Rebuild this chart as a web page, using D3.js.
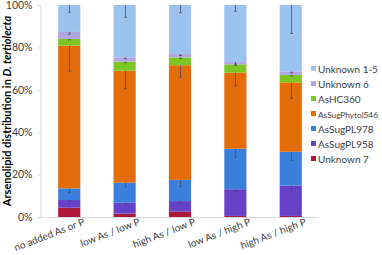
<!DOCTYPE html>
<html>
<head>
<meta charset="utf-8">
<script src="https://cdn.jsdelivr.net/npm/d3@7"></script>
<style>
  body { margin: 0; background: #fff; }
  svg text { font-family: Lato, "Open Sans", sans-serif; fill: #404040; }
</style>
</head>
<body>
<div id="chart"></div>
<script>
const width = 382;
const height = 255;

const categories = ["no added As or P", "low As / low P", "high As / low P", "low As / high P", "high As / high P"];
const seriesNames = ["Unknown 7", "AsSugPL958", "AsSugPL978", "AsSugPhytol546", "AsHC360", "Unknown 6", "Unknown 1-5"];
const colors = ["#B0173A", "#6642C8", "#3A7FDB", "#E46C0B", "#7CC623", "#B3A5E2", "#9CC2F0"];

// percent values per series, one per category
const unknown7 = [4.4, 1.6, 2.5, 0.5, 0.5];
const pl958 = [3.6, 5.1, 5.0, 12.6, 14.3];
const pl978 = [5.5, 9.5, 10.0, 19.1, 16.0];
const phytol546 = [67.3, 52.8, 54.1, 35.9, 32.7];
const hc360 = [3.2, 4.3, 3.7, 3.9, 3.5];
const unknown6 = [3.3, 2.0, 1.6, 1.1, 1.7];
const unknown15 = [12.7, 24.7, 23.1, 26.9, 31.3];

// error (minus direction) per series
const errUnknown7 = [0.5, 0.5, 0.5, 0.3, 0.3];
const errPl958 = [0.5, 0.7, 0.7, 1.3, 3.0];
const errPl978 = [2.0, 2.0, 3.0, 4.0, 4.0];
const errPhytol546 = [12.0, 8.5, 5.7, 6.3, 7.5];
const errHc360 = [0.5, 0.5, 0.5, 0.5, 0.5];
const errUnknown6 = [1.0, 0.7, 0.7, 1.0, 0.7];
const errUnknown15 = [3.4, 5.8, 3.6, 3.0, 13.4];

const yTicks = [0, 20, 40, 60, 80, 100];

const values = [unknown7, pl958, pl978, phytol546, hc360, unknown6, unknown15];
const errors = [errUnknown7, errPl958, errPl978, errPhytol546, errHc360, errUnknown6, errUnknown15];

const table = categories.map((c, i) => {
    const row = { cat: c };
    seriesNames.forEach((s, j) => { row[s] = values[j][i]; });
    return row;
});

const stacked = d3.stack().keys(seriesNames)(table);

const svg = d3.select("#chart")
    .append("svg")
    .attr("width", width)
    .attr("height", height);

const x = d3.scaleBand()
    .domain(categories)
    .range([41, 319])
    .paddingInner(0.6)
    .paddingOuter(0.31);

const y = d3.scaleLinear()
    .domain([0, 100])
    .range([217, 5]);

// bars
stacked.forEach((layer, j) => {
    svg.append("g")
        .selectAll("rect")
        .data(layer)
        .enter()
        .append("rect")
        .attr("x", d => x(d.data.cat))
        .attr("y", d => y(d[1]))
        .attr("width", x.bandwidth())
        .attr("height", d => y(d[0]) - y(d[1]))
        .attr("fill", colors[j]);
});

// error bars (minus only, from segment top)
stacked.forEach((layer, j) => {
    const g = svg.append("g")
        .attr("stroke", "#4a4a5a")
        .attr("stroke-opacity", 0.75)
        .attr("stroke-width", 1);
    layer.forEach((d, i) => {
        const cx = Math.round(x(d.data.cat) + x.bandwidth() / 2) + 0.5;
        const y1 = y(d[1]);
        const y2 = y(d[1] - errors[j][i]);
        g.append("line").attr("x1", cx).attr("x2", cx).attr("y1", y1).attr("y2", y2);
        g.append("line").attr("x1", cx - 1.5).attr("x2", cx + 1.5).attr("y1", y2).attr("y2", y2);
    });
});

// y axis
const yAxis = svg.append("g")
    .attr("transform", "translate(40.5,0)")
    .call(d3.axisLeft(y).tickValues(yTicks).tickFormat(d => d + "%").tickSize(3).tickPadding(5));
yAxis.select(".domain").attr("stroke", "#d9d9d9");
yAxis.selectAll(".tick line").attr("stroke", "#d9d9d9");
yAxis.selectAll("text").attr("font-size", "10.5px").style("fill", "#404040");

// x axis
const xAxis = svg.append("g")
    .attr("transform", "translate(0,217.5)")
    .call(d3.axisBottom(x).tickSize(0).tickSizeOuter(0));
xAxis.select(".domain").attr("stroke", "#d9d9d9").attr("d", "M40,0H318");
xAxis.selectAll("text")
    .attr("font-size", "10px")
    .style("fill", "#404040")
    .attr("text-anchor", "end")
    .attr("y", 0)
    .attr("dy", 0)
    .attr("transform", "translate(16,7) rotate(-21)");

// y title
const title = svg.append("text")
    .attr("transform", "translate(11,111) rotate(-90)")
    .attr("text-anchor", "middle")
    .attr("font-size", "11px")
    .attr("font-weight", "bold")
    .style("fill", "#000");
title.append("tspan").text("Arsenolipid distribution in ");
title.append("tspan").attr("font-style", "italic").text("D. tertiolecta");

// legend (top to bottom reversed order)
const legendItems = seriesNames.map((s, j) => ({ name: s, color: colors[j] })).reverse();
const legend = svg.append("g");
legendItems.forEach((d, i) => {
    const ly = 69 + i * 15;
    legend.append("rect")
        .attr("x", 311)
        .attr("y", ly - 3)
        .attr("width", 5)
        .attr("height", 5)
        .attr("fill", d.color);
    const t = legend.append("text")
        .attr("x", 318)
        .attr("y", ly + 3.5)
        .attr("font-size", "10px")
        .style("fill", "#404040")
        .text(d.name);
    // shrink long names so they fit inside the window
    const len = t.node().getComputedTextLength();
    if (len > 60) {
        t.attr("font-size", (10 * 60 / len).toFixed(2) + "px");
    }
});
</script>
</body>
</html>
